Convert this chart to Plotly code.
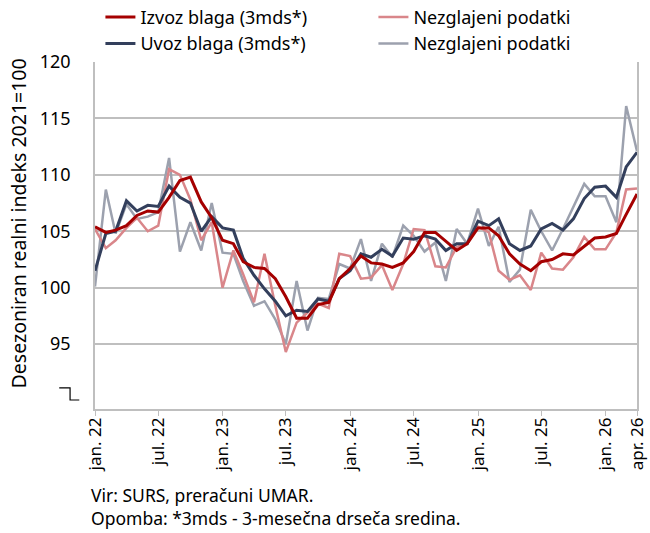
import pandas as pd
import plotly.graph_objects as go

# monthly, jan 2022 - apr 2026
months = pd.date_range("2022-01-01", periods=52, freq="MS")

izvoz_3mds = [105.4, 104.9, 105.1, 105.5, 106.4, 106.8, 106.7, 108.0, 109.5, 109.8,
              107.6, 106.2, 104.2, 103.9, 102.3, 101.8, 101.7, 100.8, 99.2, 97.3,
              97.3, 98.5, 98.7, 100.8, 101.7, 102.8, 102.2, 102.1, 101.8, 102.2,
              103.2, 104.9, 104.9, 104.1, 103.3, 103.9, 105.3, 105.3, 104.6, 103.0,
              102.1, 101.5, 102.3, 102.5, 103.0, 102.9, 103.7, 104.4, 104.5, 104.8,
              106.5, 108.3]
izvoz_raw = [105.2, 103.5, 104.2, 105.3, 106.2, 105.0, 105.5, 110.5, 110.0, 107.8,
             104.2, 105.8, 100.0, 103.3, 101.2, 98.7, 103.0, 98.4, 94.3, 96.9,
             97.8, 98.6, 98.2, 103.0, 102.8, 100.8, 100.9, 102.0, 99.8, 102.1,
             105.2, 105.1, 101.9, 101.8, 103.6, 103.9, 105.4, 104.9, 101.5, 100.7,
             101.1, 99.8, 103.1, 101.7, 101.6, 102.7, 104.5, 103.4, 103.4, 104.9,
             108.7, 108.8]
uvoz_3mds = [101.5, 104.8, 105.0, 107.7, 106.8, 107.3, 107.2, 109.0, 108.0, 107.5,
             105.0, 106.3, 105.3, 105.1, 102.6, 101.1, 99.9, 98.8, 97.5, 98.0,
             97.9, 99.0, 98.8, 100.8, 101.5, 103.0, 102.7, 103.4, 102.8, 104.4,
             104.3, 104.6, 104.3, 103.3, 103.9, 103.9, 105.9, 105.5, 106.1, 103.9,
             103.3, 103.7, 105.2, 105.7, 105.1, 106.1, 107.9, 108.9, 109.0, 108.0,
             110.7, 112.0]
uvoz_raw = [100.1, 108.7, 104.8, 107.4, 106.1, 106.3, 106.7, 111.5, 103.2, 105.8,
            103.3, 107.5, 103.1, 103.0, 100.6, 98.4, 98.8, 97.2, 95.0, 100.6,
            96.2, 99.1, 99.0, 102.1, 101.7, 104.3, 100.6, 103.9, 102.7, 105.5,
            104.6, 103.2, 104.0, 100.6, 105.2, 103.9, 107.0, 103.7, 105.4, 100.5,
            101.6, 106.9, 105.0, 103.3, 105.2, 107.1, 109.2, 108.1, 108.1, 105.8,
            116.1, 112.1]

tick_dates = ["2022-01-01", "2022-07-01", "2023-01-01", "2023-07-01", "2024-01-01",
              "2024-07-01", "2025-01-01", "2025-07-01", "2026-01-01", "2026-04-01"]
tick_text = ["jan. 22", "jul. 22", "jan. 23", "jul. 23", "jan. 24",
             "jul. 24", "jan. 25", "jul. 25", "jan. 26", "apr. 26"]
y_ticks = [95, 100, 105, 110, 115, 120]

FONT = "Noto Sans"

fig = go.Figure()
# raw series first so the smoothed lines sit on top
fig.add_trace(go.Scatter(x=months, y=uvoz_raw, name="Nezglajeni podatki", mode="lines",
                         line=dict(color="#9CA1AE", width=2.5), legendrank=4))
fig.add_trace(go.Scatter(x=months, y=izvoz_raw, name="Nezglajeni podatki", mode="lines",
                         line=dict(color="#D9868A", width=2.5), legendrank=2))
fig.add_trace(go.Scatter(x=months, y=uvoz_3mds, name="Uvoz blaga (3mds*)", mode="lines",
                         line=dict(color="#333F5C", width=3), legendrank=3))
fig.add_trace(go.Scatter(x=months, y=izvoz_3mds, name="Izvoz blaga (3mds*)", mode="lines",
                         line=dict(color="#A50000", width=3), legendrank=1))

# darker reference line at 100
fig.add_hline(y=100, line=dict(color="#8C8C8C", width=1.5), layer="below")

fig.update_layout(
    width=650, height=533,
    margin=dict(l=95, r=13, t=62, b=124, autoexpand=False),
    paper_bgcolor="white", plot_bgcolor="white",
    font=dict(family=FONT, size=17, color="black"),
    showlegend=True,
    legend=dict(orientation="h", x=0.01, xanchor="left", y=1.182, yanchor="top",
                entrywidth=228, entrywidthmode="pixels", tracegroupgap=0,
                font=dict(size=18), bgcolor="rgba(0,0,0,0)"),
    xaxis=dict(range=[months[0], months[-1]], tickvals=tick_dates, ticktext=tick_text,
               tickangle=-90, showgrid=False, showline=True, linecolor="#BFBFBF",
               linewidth=1.5, ticks="outside", tickcolor="#BFBFBF", ticklen=5,
               ticklabelstandoff=-5, tickfont=dict(size=17)),
    yaxis=dict(range=[89.25, 120], tickvals=y_ticks, showgrid=True,
               gridcolor="#BFBFBF", gridwidth=1.5, showline=True, mirror=True,
               linecolor="#BFBFBF", linewidth=1.5, zeroline=False,
               ticklabelstandoff=19, tickfont=dict(size=18)),
)

# y axis title, placed as in the reference (a little above the plot centre)
fig.add_annotation(text="Desezoniran realni indeks 2021=100", textangle=-90,
                   xref="paper", yref="paper", x=-0.142, y=0.535,
                   xanchor="center", yanchor="middle", showarrow=False,
                   font=dict(size=19.5))

# axis break mark below the 95 label
fig.add_shape(type="path", xref="paper", yref="paper",
              path="M -0.066 0.061 L -0.046 0.061 L -0.046 0.026 L -0.029 0.026",
              line=dict(color="black", width=1.2))

fig.add_annotation(text="Vir: SURS, preračuni UMAR.", xref="paper", yref="paper",
                   x=-0.011, y=-0.248, xanchor="left", yanchor="middle",
                   showarrow=False, font=dict(size=17.5))
fig.add_annotation(text="Opomba: *3mds - 3-mesečna drseča sredina.", xref="paper",
                   yref="paper", x=-0.011, y=-0.314, xanchor="left", yanchor="middle",
                   showarrow=False, font=dict(size=17.5))

# drop the default 8px page margin so the 650x533 figure fills the window
fig.write_html("out.html", config={"displayModeBar": False},
               post_script="document.body.style.margin = '0';")
